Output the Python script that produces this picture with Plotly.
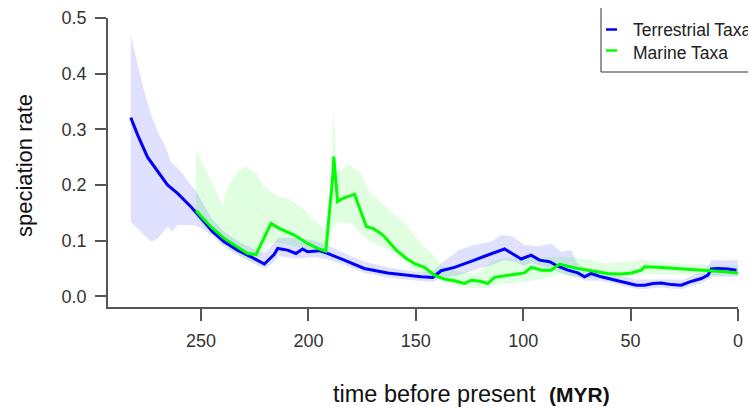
import plotly.graph_objects as go

# ---------------- data ----------------
terr_t = [282.7, 279.5, 274.9, 270.2, 265.6, 260.9, 254.7, 248.5, 244.6, 239.2, 233.0, 226.8,
          223.7, 220.5, 216.0, 214.3, 209.7, 205.8, 202.7, 200.4, 194.9, 191.1, 183.3, 174.0,
          163.1, 155.3, 147.5, 142.1, 138.2, 132.0, 127.4, 122.7, 118.0, 113.4, 108.7, 104.8,
          100.9, 96.3, 92.4, 87.7, 83.9, 79.2, 74.6, 71.4, 68.3, 63.7, 59.0, 52.8, 47.3, 43.5,
          39.5, 35.7, 31.0, 26.4, 22.5, 17.1, 14.0, 12.4, 9.3, 4.7, 0.7]
terr_rate = [0.321, 0.290, 0.250, 0.224, 0.200, 0.185, 0.161, 0.134, 0.116, 0.098, 0.083, 0.071,
             0.064, 0.058, 0.075, 0.086, 0.083, 0.077, 0.085, 0.080, 0.082, 0.077, 0.065, 0.050,
             0.042, 0.038, 0.035, 0.034, 0.046, 0.052, 0.058, 0.065, 0.072, 0.078, 0.085, 0.076,
             0.067, 0.074, 0.065, 0.062, 0.054, 0.047, 0.042, 0.035, 0.041, 0.035, 0.031, 0.026,
             0.020, 0.020, 0.023, 0.024, 0.021, 0.020, 0.026, 0.032, 0.038, 0.049, 0.050, 0.049, 0.047]

terr_up_t = [282.7, 279.5, 276.4, 273.3, 270.2, 266.3, 264.0, 259.3, 254.7, 252.4, 245.0, 239.0,
             233.0, 227.0, 224.0, 220.0, 214.0, 205.0, 197.0, 190.0, 183.0, 174.0, 163.0, 155.0,
             147.0, 142.0, 138.0, 130.0, 123.0, 115.0, 110.3, 105.0, 99.4, 93.0, 87.0, 82.3, 77.6,
             75.0, 71.0, 65.0, 59.0, 53.0, 47.0, 40.0, 31.0, 25.0, 20.0, 15.0, 12.5, 0.0]
terr_up = [0.470, 0.416, 0.368, 0.326, 0.296, 0.266, 0.242, 0.224, 0.200, 0.190, 0.140, 0.115,
           0.100, 0.088, 0.082, 0.078, 0.105, 0.105, 0.100, 0.090, 0.077, 0.062, 0.052, 0.047,
           0.043, 0.045, 0.060, 0.083, 0.092, 0.098, 0.110, 0.108, 0.092, 0.090, 0.095, 0.080, 0.083,
           0.060, 0.048, 0.045, 0.040, 0.035, 0.030, 0.030, 0.030, 0.030, 0.040, 0.045, 0.065, 0.065]
terr_lo_t = [282.7, 277.9, 273.3, 270.2, 265.6, 263.3, 260.9, 254.7, 252.4, 245.0, 239.0, 233.0,
             227.0, 224.0, 220.0, 216.0, 214.0, 205.0, 197.0, 191.0, 183.0, 174.0, 163.0, 155.0,
             147.0, 142.0, 138.0, 130.0, 123.0, 115.0, 109.0, 104.0, 100.0, 96.0, 92.0, 87.0, 84.0,
             79.0, 75.0, 71.0, 64.0, 59.0, 53.0, 47.0, 43.0, 36.0, 31.0, 26.0, 22.0, 17.0, 14.0,
             12.5, 0.0]
terr_lo = [0.134, 0.116, 0.098, 0.104, 0.125, 0.116, 0.128, 0.128, 0.127, 0.110, 0.088, 0.074,
           0.062, 0.056, 0.050, 0.062, 0.072, 0.068, 0.070, 0.066, 0.056, 0.042, 0.034, 0.030,
           0.027, 0.026, 0.033, 0.038, 0.047, 0.056, 0.065, 0.062, 0.055, 0.060, 0.055, 0.050, 0.044,
           0.038, 0.034, 0.028, 0.028, 0.024, 0.018, 0.013, 0.013, 0.016, 0.014, 0.013, 0.018, 0.024,
           0.030, 0.035, 0.035]

mar_t = [252.4, 245.4, 239.2, 233.0, 228.3, 224.4, 220.6, 217.4, 213.6, 206.6, 200.4, 195.7,
         191.9, 190.4, 188.6, 188.2, 187.1, 186.4, 184.0, 178.5, 173.0, 169.9, 165.3, 159.1,
         154.4, 150.7, 146.0, 141.3, 136.7, 132.0, 127.4, 124.2, 120.0, 116.5, 113.4, 105.6, 99.4,
         96.3, 91.6, 87.0, 83.1, 79.2, 74.6, 68.3, 60.6, 54.3, 49.7, 45.0, 43.5, 37.3, 29.5, 21.7,
         14.0, 6.2, 0.0]
mar_rate = [0.154, 0.125, 0.104, 0.088, 0.077, 0.075, 0.107, 0.131, 0.122, 0.110, 0.095, 0.086,
            0.081, 0.140, 0.218, 0.251, 0.206, 0.170, 0.176, 0.183, 0.125, 0.122, 0.110, 0.083,
            0.068, 0.059, 0.052, 0.038, 0.031, 0.028, 0.023, 0.029, 0.027, 0.023, 0.034, 0.038, 0.042,
            0.052, 0.047, 0.047, 0.058, 0.054, 0.050, 0.046, 0.041, 0.040, 0.042, 0.047, 0.053, 0.052,
            0.050, 0.049, 0.047, 0.044, 0.042]

mar_up_t = [252.4, 245.4, 240.0, 237.6, 232.2, 229.1, 223.7, 220.5, 214.3, 209.7, 203.4, 197.2,
            191.8, 189.5, 188.3, 186.8, 180.9, 176.2, 171.5, 163.8, 154.4, 147.5, 146.0, 141.3,
            136.7, 130.0, 122.0, 114.9, 110.3, 100.0, 90.0, 83.9, 76.0, 60.6, 45.0, 29.5, 14.0, 0.0]
mar_up = [0.263, 0.209, 0.164, 0.197, 0.227, 0.233, 0.218, 0.197, 0.179, 0.176, 0.161, 0.137,
          0.119, 0.200, 0.341, 0.224, 0.236, 0.224, 0.188, 0.160, 0.128, 0.095, 0.089, 0.071,
          0.050, 0.045, 0.040, 0.062, 0.068, 0.070, 0.070, 0.071, 0.070, 0.059, 0.065, 0.060,
          0.056, 0.054]
mar_lo_t = [252.4, 245.0, 239.0, 233.0, 228.0, 224.0, 220.0, 217.0, 210.0, 205.0, 195.0, 191.0,
            189.0, 186.4, 180.1, 174.7, 171.5, 163.8, 154.4, 150.7, 142.9, 136.0, 127.0, 117.0,
            110.0, 99.4, 90.0, 83.0, 76.0, 60.6, 45.0, 29.5, 14.0, 0.0]
mar_lo = [0.140, 0.112, 0.092, 0.075, 0.065, 0.062, 0.090, 0.097, 0.093, 0.088, 0.075, 0.070,
          0.120, 0.134, 0.131, 0.110, 0.098, 0.086, 0.062, 0.047, 0.035, 0.025, 0.015, 0.015,
          0.022, 0.026, 0.032, 0.040, 0.035, 0.030, 0.040, 0.040, 0.038, 0.038]

series_names = ["Terrestrial Taxa", "Marine Taxa"]
x_ticks = [250, 200, 150, 100, 50, 0]
y_ticks = [0.0, 0.1, 0.2, 0.3, 0.4, 0.5]
y_tick_text = ["0.0", "0.1", "0.2", "0.3", "0.4", "0.5"]

BLUE = "#0000ff"
GREEN = "#00ff00"
FONT = "Arial, Liberation Sans, sans-serif"

fig = go.Figure()

def band(up_t, up, lo_t, lo, color, name):
    xs = list(up_t) + list(lo_t)[::-1]
    ys = list(up) + list(lo)[::-1]
    fig.add_trace(go.Scatter(x=xs, y=ys, fill="toself", fillcolor=color, mode="none",
                             hoverinfo="skip", showlegend=False, name=name))

band(terr_up_t, terr_up, terr_lo_t, terr_lo, "rgba(0,0,255,0.12)", series_names[0] + " CI")
band(mar_up_t, mar_up, mar_lo_t, mar_lo, "rgba(0,255,0,0.12)", series_names[1] + " CI")

fig.add_trace(go.Scatter(x=terr_t, y=terr_rate, mode="lines", name=series_names[0],
                         line=dict(color=BLUE, width=3), showlegend=False))
fig.add_trace(go.Scatter(x=mar_t, y=mar_rate, mode="lines", name=series_names[1],
                         line=dict(color=GREEN, width=3), showlegend=False))

# ---- layout geometry (page pixels; the page body has an 8px margin) ----
OFF = 8
W, H = 756 - OFF, 408 - OFF
ML, MR, MT, MB = 108 - OFF, 18, 18 - OFF, 101
PW, PH = W - ML - MR, H - MT - MB

def px(xp):
    return (xp - OFF - ML) / PW

def py(yp):
    return (H - MB - (yp - OFF)) / PH

# manual legend
shapes = [
    dict(type="rect", xref="paper", yref="paper", x0=px(601), x1=px(775), y0=py(72), y1=py(7.5),
         line=dict(color="#333333", width=1), fillcolor="rgba(255,255,255,0)", layer="above"),
    dict(type="line", xref="paper", yref="paper", x0=px(606), x1=px(617), y0=py(29.5), y1=py(29.5),
         line=dict(color=BLUE, width=2.5)),
    dict(type="line", xref="paper", yref="paper", x0=px(606), x1=px(617), y0=py(50.5), y1=py(50.5),
         line=dict(color=GREEN, width=2.5)),
]
annotations = [
    dict(text=series_names[0], xref="paper", yref="paper", x=px(631), y=py(29.5), xanchor="left",
         yanchor="middle", showarrow=False, font=dict(family=FONT, size=17.5, color="#222222")),
    dict(text=series_names[1], xref="paper", yref="paper", x=px(631), y=py(52.5), xanchor="left",
         yanchor="middle", showarrow=False, font=dict(family=FONT, size=17.5, color="#222222")),
    dict(text="speciation rate", xref="paper", yref="paper", x=px(24), y=py(166), xanchor="center",
         yanchor="middle", textangle=-90, showarrow=False,
         font=dict(family=FONT, size=22, color="#111111")),
    dict(text="time before present", xref="paper", yref="paper", x=px(331), y=py(394), xanchor="left",
         yanchor="middle", showarrow=False, font=dict(family=FONT, size=23.5, color="#111111")),
    dict(text="<b>(MYR)</b>", xref="paper", yref="paper", x=px(547), y=py(394), xanchor="left",
         yanchor="middle", showarrow=False, font=dict(family=FONT, size=21, color="#111111")),
]

fig.update_layout(
    width=W, height=H,
    margin=dict(l=ML, r=MR, t=MT, b=MB, autoexpand=False),
    paper_bgcolor="white", plot_bgcolor="white",
    showlegend=False,
    shapes=shapes, annotations=annotations,
    font=dict(family=FONT, color="#333333"),
    xaxis=dict(range=[293.3, 0], showgrid=False, zeroline=False, showline=True,
               linecolor="#555555", linewidth=1.5, ticks="outside", ticklen=12, tickwidth=1.5,
               tickcolor="#555555", tickvals=x_ticks, ticktext=[str(v) for v in x_ticks],
               tickfont=dict(size=18, color="#333333"), ticklabelstandoff=5),
    yaxis=dict(range=[-0.0192, 0.5], showgrid=False, zeroline=False, showline=True,
               linecolor="#555555", linewidth=1.5, ticks="outside", ticklen=11, tickwidth=1.5,
               tickcolor="#555555", tickvals=y_ticks, ticktext=y_tick_text,
               tickfont=dict(size=18, color="#333333"), ticklabelstandoff=5),
)

fig.write_html("out.html")
